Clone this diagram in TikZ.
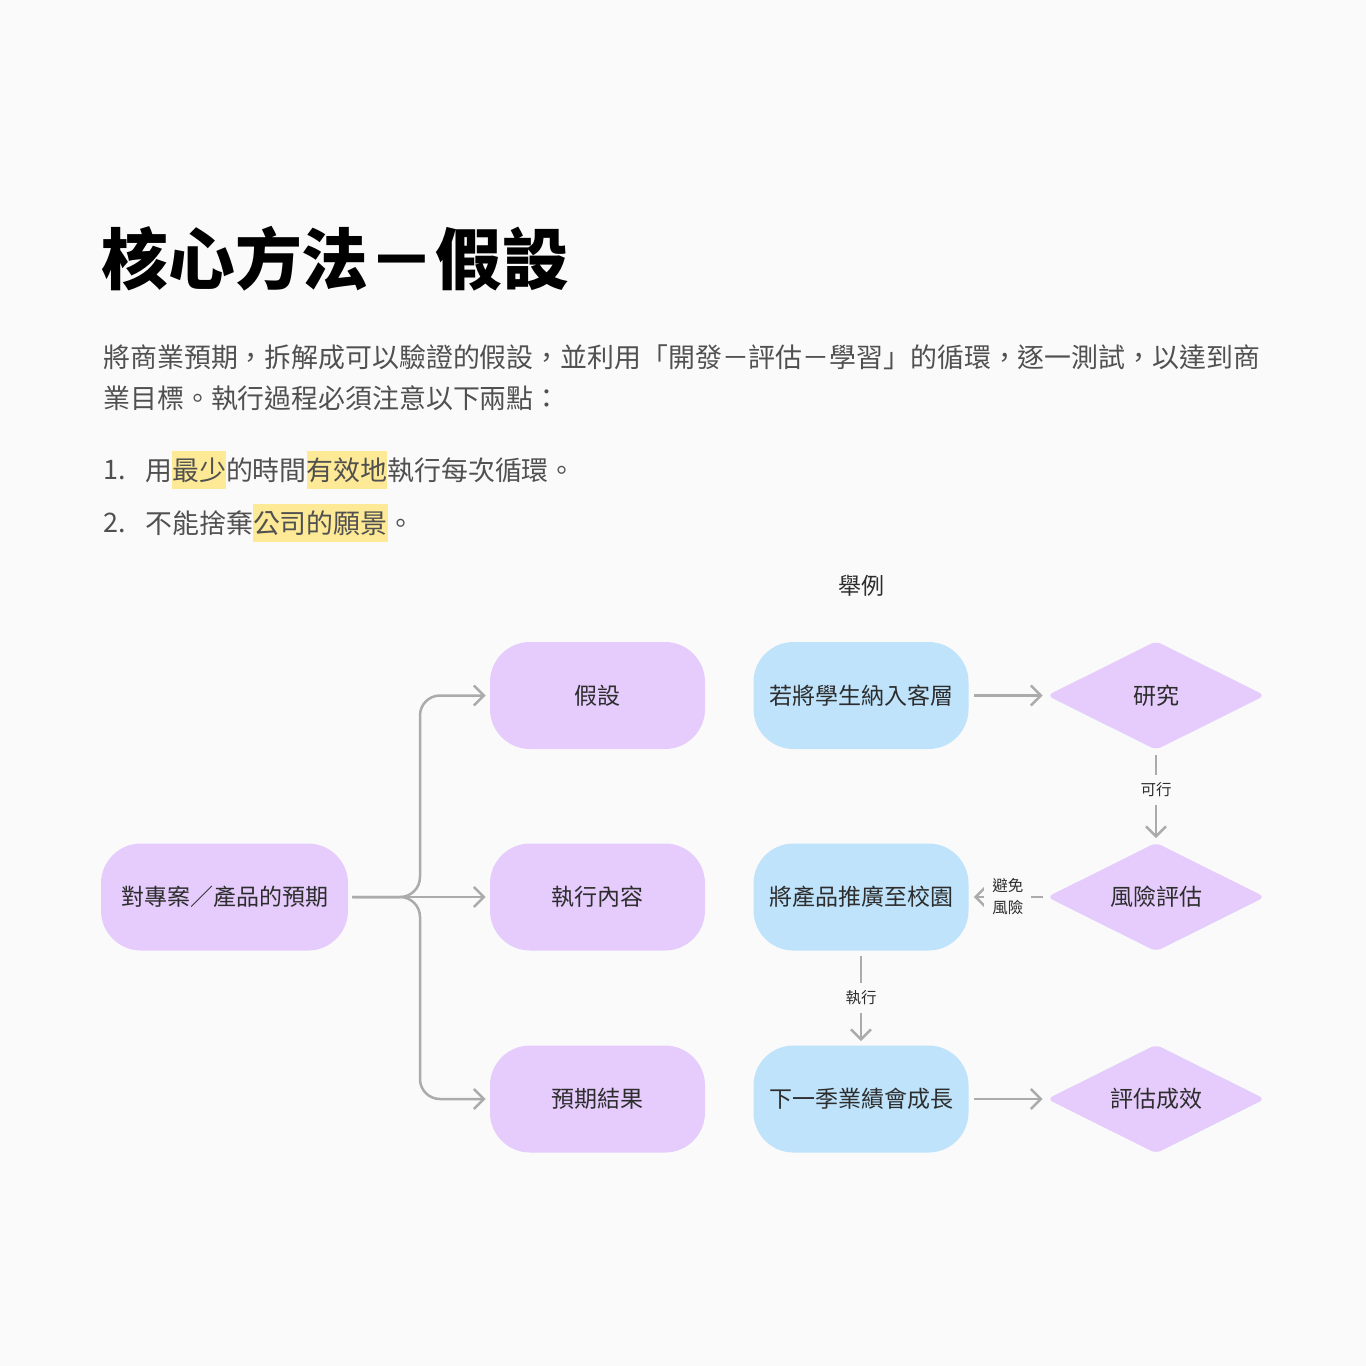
\documentclass[tikz,border=0pt]{standalone}
\usepackage{fontspec}
\usepackage{xcolor}
\setmainfont{Noto Sans CJK TC}
\usetikzlibrary{shapes.geometric,arrows.meta,positioning}

\definecolor{bgcol}{RGB}{250,250,250}
\definecolor{lav}{RGB}{229,204,252}
\definecolor{sky}{RGB}{190,227,251}
\definecolor{hlcol}{RGB}{253,233,150}
\definecolor{linecol}{RGB}{171,171,171}
\definecolor{bodycol}{RGB}{80,80,80}
\definecolor{inkcol}{RGB}{45,45,45}

\setlength{\fboxsep}{0pt}
\newcommand{\hlmark}[1]{\colorbox{hlcol}{\rule[-0.31em]{0pt}{1.38em}#1}}

\tikzset{
  pill/.style={rounded corners=20pt, minimum width=107.5pt, minimum height=53.5pt,
    inner sep=0pt, text=inkcol, font=\fontsize{11.5pt}{13pt}\selectfont},
  idea/.style={pill, fill=lav},
  case/.style={pill, fill=sky},
  check/.style={diamond, aspect=2, fill=lav, minimum width=109pt, minimum height=54.5pt,
    inner sep=0pt, rounded corners=3pt, text=inkcol, font=\fontsize{11.5pt}{13pt}\selectfont},
  arr/.style={draw=linecol, line width=1.25pt, -{Straight Barb[length=5pt,width=10pt]}},
  lbl/.style={fill=bgcol, inner sep=4pt, text=inkcol, align=center,
    font=\fontsize{7.75pt}{11pt}\selectfont},
  body/.style={anchor=west, inner sep=0pt, text=bodycol, font=\fontsize{13.45pt}{16pt}\selectfont}
}

\begin{document}
\begin{tikzpicture}[x=0.5pt, y=-0.5pt]

\fill[bgcol] (0,0) rectangle (1366,1366);
\useasboundingbox (0,0) rectangle (1366,1366);

% heading and text
\node[anchor=west, inner sep=0pt, font=\fontsize{33.4pt}{36pt}\selectfont\bfseries] (title) at (101,259) {核心方法－假設};
\node[body] (para1) at (103,357) {將商業預期，拆解成可以驗證的假設，並利用「開發－評估－學習」的循環，逐一測試，以達到商};
\node[body] (para2) at (103,398) {業目標。執行過程必須注意以下兩點：};
\node[body] (num1) at (103,470) {1.};
\node[body] (item1) at (145,470) {用\hlmark{最少}的時間\hlmark{有效地}執行每次循環。};
\node[body] (num2) at (103,523) {2.};
\node[body] (item2) at (145,523) {不能捨棄\hlmark{公司的願景}。};

\node[text=inkcol, font=\fontsize{11.5pt}{13pt}\selectfont] (example) at (861,586) {舉例};

% left tree
\node[idea, minimum width=123.5pt] (goal) at (224.5,897) {對專案／產品的預期};
\node[idea] (hyp) at (597.5,695.5) {假設};
\node[idea] (exe) at (597.5,897) {執行內容};
\node[idea] (res) at (597.5,1099) {預期結果};

\coordinate (fork) at (420,897);
\draw[arr, rounded corners=10pt, shorten <=2pt, shorten >=2pt] (goal.east) -- (fork) |- (hyp.west);
\draw[arr, shorten <=2pt, shorten >=2pt] (goal.east) -- (exe.west);
\draw[arr, rounded corners=10pt, shorten <=2pt, shorten >=2pt] (goal.east) -- (fork) |- (res.west);

% example
\node[case] (b1) at (861,695.5) {若將學生納入客層};
\node[case] (b2) at (861,897) {將產品推廣至校園};
\node[case] (b3) at (861,1099) {下一季業績會成長};
\node[check] (d1) at (1156,695.5) {研究};
\node[check] (d2) at (1156,897) {風險評估};
\node[check] (d3) at (1156,1099) {評估成效};

\draw[arr, shorten <=2.5pt, shorten >=2pt] (b1.east) -- (d1.west);
\draw[arr, shorten <=2.5pt, shorten >=2pt] (d1.south) -- node[lbl, pos=0.43] {可行} (d2.north);
\draw[arr, shorten <=2pt, shorten >=2.5pt] (d2.west) -- node[lbl] {避免\\風險} (b2.east);
\draw[arr, shorten <=2.5pt, shorten >=2pt] (b2.south) -- node[lbl] {執行} (b3.north);
\draw[arr, shorten <=2.5pt, shorten >=2pt] (b3.east) -- (d3.west);

\end{tikzpicture}
\end{document}
